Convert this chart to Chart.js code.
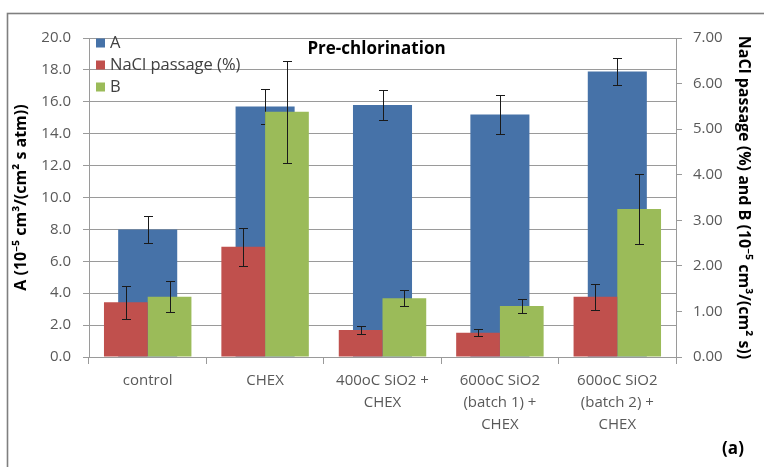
<!DOCTYPE html>
<html>
<head>
<meta charset="utf-8">
<script src="https://cdn.jsdelivr.net/npm/chart.js@4/dist/chart.umd.min.js"></script>
<style>
  html, body { margin: 0; padding: 0; background: #ffffff; }
  #wrap { width: 764px; height: 467px; }
</style>
</head>
<body>
<div id="wrap"><canvas id="chart" width="764" height="467"></canvas></div>
<script>
// Membrane performance before chlorination
const categories = [
  'control',
  'CHEX',
  ['400oC SiO2 +', 'CHEX'],
  ['600oC SiO2', '(batch 1) +', 'CHEX'],
  ['600oC SiO2', '(batch 2) +', 'CHEX']
];
const seriesNames = ['A', 'NaCl passage (%)', 'B'];

// A, 10^-5 cm3/(cm2 s atm) — left axis
const aValues = [8.0, 15.7, 15.8, 15.2, 17.9];
const aErrors = [0.85, 1.1, 0.95, 1.25, 0.87];

// NaCl passage, % — right axis
const naclValues = [1.20, 2.42, 0.59, 0.53, 1.32];
const naclErrors = [0.36, 0.42, 0.08, 0.08, 0.29];

// B, 10^-5 cm3/(cm2 s) — right axis
const bValues = [1.32, 5.38, 1.29, 1.12, 3.25];
const bErrors = [0.34, 1.12, 0.18, 0.16, 0.76];

const leftTicks = { min: 0, max: 20, step: 2 };
const rightTicks = { min: 0, max: 7, step: 1 };

const titleText = 'Pre-chlorination';
const panelTag = '(a)';
const leftAxisTitle = 'A (10\u207B\u2075 cm\u00B3/(cm\u00B2 s atm))';
const rightAxisTitle = 'NaCl passage (%) and B (10\u207B\u2075 cm\u00B3/(cm\u00B2 s))';

const COLORS = { blue: '#4672a8', red: '#c0504d', green: '#9bbb59' };
const GRID = '#9a9a9a';
const TICK_TEXT = '#595959';
const FONT = "'Open Sans', 'Noto Sans', sans-serif";

// white background plus the outer frame of the figure
const framePlugin = {
  id: 'frame',
  beforeDraw(chart) {
    const ctx = chart.ctx;
    ctx.save();
    ctx.fillStyle = '#ffffff';
    ctx.fillRect(0, 0, chart.width, chart.height);
    ctx.strokeStyle = '#7f7f7f';
    ctx.lineWidth = 1.6;
    ctx.strokeRect(7.5, 13.5, chart.width + 20, chart.height + 20);
    ctx.restore();
  }
};

// error bars, drawn right after their own dataset so later bars can cover them
const errorBarPlugin = {
  id: 'errorBars',
  afterDatasetDraw(chart, args) {
    const ds = chart.data.datasets[args.index];
    if (!ds.errors) return;
    const meta = args.meta;
    const scale = chart.scales[meta.yAxisID];
    const ctx = chart.ctx;
    ctx.save();
    ctx.strokeStyle = '#1a1a1a';
    ctx.lineWidth = 1;
    meta.data.forEach((bar, i) => {
      const v = ds.data[i];
      const e = ds.errors[i];
      const x = Math.round(bar.x) + 0.5;
      const yHi = Math.round(scale.getPixelForValue(v + e)) + 0.5;
      const yLo = Math.round(scale.getPixelForValue(v - e)) + 0.5;
      const cap = 4.5;
      ctx.beginPath();
      ctx.moveTo(x, yHi); ctx.lineTo(x, yLo);
      ctx.moveTo(x - cap, yHi); ctx.lineTo(x + cap, yHi);
      ctx.moveTo(x - cap, yLo); ctx.lineTo(x + cap, yLo);
      ctx.stroke();
    });
    ctx.restore();
  }
};

// in-plot legend, chart title and panel tag
const annotationPlugin = {
  id: 'annotations',
  afterDraw(chart) {
    const ctx = chart.ctx;
    const area = chart.chartArea;
    ctx.save();
    // legend
    ctx.font = `16.5px ${FONT}`;
    ctx.textBaseline = 'middle';
    ctx.textAlign = 'left';
    chart.data.datasets.forEach((ds, i) => {
      const y = area.top + 5 + i * 22;
      ctx.fillStyle = ds.backgroundColor;
      ctx.fillRect(area.left + 7, y - 4.5, 9, 9);
      ctx.fillStyle = '#404040';
      ctx.fillText(ds.label, area.left + 21, y);
    });
    // title
    ctx.fillStyle = '#000000';
    ctx.font = `bold 17px ${FONT}`;
    ctx.textAlign = 'center';
    ctx.fillText(titleText, (area.left + area.right) / 2 - 6, area.top + 11);
    // panel tag
    ctx.font = `bold 17px ${FONT}`;
    ctx.fillText(panelTag, 733, 449);
    ctx.restore();
  }
};

new Chart(document.getElementById('chart'), {
  type: 'bar',
  data: {
    labels: categories,
    datasets: [
      {
        label: seriesNames[0],
        data: aValues,
        errors: aErrors,
        yAxisID: 'y',
        backgroundColor: COLORS.blue,
        grouped: false,
        order: 1,
        categoryPercentage: 1,
        barPercentage: 0.503
      },
      {
        label: seriesNames[1],
        data: naclValues,
        errors: naclErrors,
        yAxisID: 'y1',
        backgroundColor: COLORS.red,
        stack: 'nacl',
        order: 0,
        categoryPercentage: 0.745,
        barPercentage: 1
      },
      {
        label: seriesNames[2],
        data: bValues,
        errors: bErrors,
        yAxisID: 'y1',
        backgroundColor: COLORS.green,
        stack: 'b',
        order: 0,
        categoryPercentage: 0.745,
        barPercentage: 1
      }
    ]
  },
  options: {
    responsive: false,
    animation: false,
    devicePixelRatio: 1,
    layout: { padding: { top: 38, left: 0, right: 0, bottom: 0 } },
    plugins: {
      legend: { display: false },
      tooltip: { enabled: false },
      title: { display: false }
    },
    scales: {
      x: {
        stacked: false,
        afterFit(scale) { scale.height = 110; },
        grid: {
          offset: true,
          drawOnChartArea: false,
          drawTicks: true,
          tickLength: 7,
          color: GRID
        },
        border: { display: true, color: GRID },
        ticks: {
          color: TICK_TEXT,
          padding: 6,
          maxRotation: 0,
          autoSkip: false,
          font: { family: FONT, size: 15, lineHeight: 1.47 }
        }
      },
      y: {
        position: 'left',
        stacked: false,
        min: leftTicks.min,
        max: leftTicks.max,
        afterFit(scale) { scale.width = 89; },
        grid: { color: GRID, tickLength: 6, drawTicks: true },
        border: { display: true, color: GRID },
        ticks: {
          stepSize: leftTicks.step,
          color: TICK_TEXT,
          padding: 12,
          font: { family: FONT, size: 15 },
          callback: (v) => Number(v).toFixed(1)
        },
        title: {
          display: true,
          text: leftAxisTitle,
          color: '#000000',
          padding: { top: 12, bottom: 0 },
          font: { family: FONT, size: 16, weight: 'bold' }
        }
      },
      y1: {
        position: 'right',
        stacked: false,
        min: rightTicks.min,
        max: rightTicks.max,
        afterFit(scale) { scale.width = 88; },
        grid: { drawOnChartArea: false, color: GRID, tickLength: 6, drawTicks: true },
        border: { display: true, color: GRID },
        ticks: {
          stepSize: rightTicks.step,
          color: TICK_TEXT,
          padding: 11,
          font: { family: FONT, size: 15 },
          callback: (v) => Number(v).toFixed(2)
        },
        title: {
          display: true,
          text: rightAxisTitle,
          color: '#000000',
          padding: { top: 11, bottom: 0 },
          font: { family: FONT, size: 16, weight: 'bold' }
        }
      }
    }
  },
  plugins: [framePlugin, errorBarPlugin, annotationPlugin]
});
</script>
</body>
</html>
